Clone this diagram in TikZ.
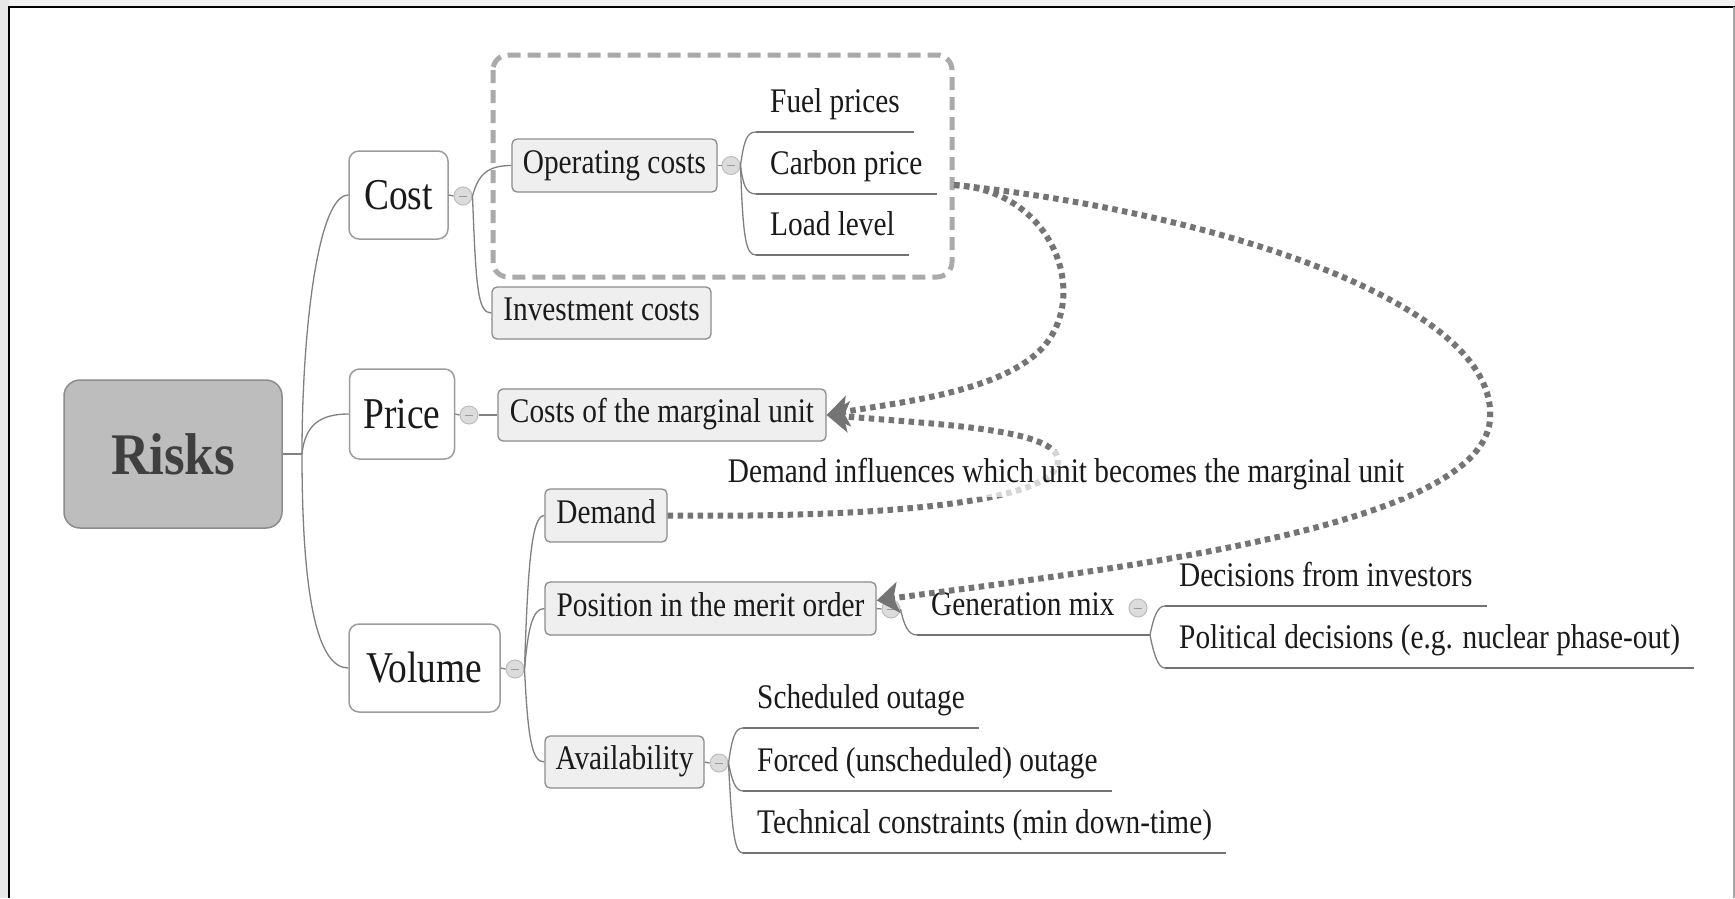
\documentclass[tikz,border=0pt]{standalone}
\usepackage{fontspec}
\setmainfont{Liberation Serif}
\usetikzlibrary{arrows.meta,calc}

\definecolor{conngray}{HTML}{808080}
\definecolor{boxedge}{HTML}{8C8C8C}
\definecolor{boxfill}{HTML}{EFEFEF}
\definecolor{rootfill}{HTML}{BDBDBD}
\definecolor{roottext}{HTML}{3F3F3F}
\definecolor{dotgray}{HTML}{747474}
\definecolor{groupgray}{HTML}{AAAAAA}
\definecolor{btnfill}{HTML}{DCDCDC}
\definecolor{btnedge}{HTML}{BDBDBD}
\definecolor{inktext}{HTML}{1A1A1A}

% slightly condensed text, as set by the mind-map tool
\newcommand\cnd[1]{\scalebox{0.85}[1]{#1}}
\newcommand\cndr[1]{\scalebox{0.9}[1]{#1}}
\newcommand\fsub{\fontsize{34.5}{40}\selectfont}
\newcommand\fmain{\fontsize{44}{50}\selectfont}
\newcommand\froot{\fontsize{59}{70}\selectfont\bfseries}

\begin{document}
\begin{tikzpicture}[x=1pt,y=-1pt,
  rootbox/.style={draw=boxedge, fill=rootfill, line width=1.5pt, rounded corners=16pt,
    inner sep=0pt, text=roottext, font=\froot, text height=40pt, text depth=0pt},
  topic/.style={draw=boxedge!85, fill=white, line width=1.5pt, rounded corners=10pt,
    inner sep=0pt, text=inktext, font=\fmain, text height=29pt, text depth=0pt},
  subbox/.style={draw=boxedge, fill=boxfill, line width=1.3pt, rounded corners=5pt,
    inner sep=0pt, text=inktext, font=\fsub, text height=22.8pt, text depth=7.8pt},
  leaf/.style={anchor=south west, inner xsep=14pt, inner ysep=0pt, text=inktext,
    font=\fsub, text height=24pt, text depth=19pt},
  collapse/.style={circle, minimum size=18pt, inner sep=0pt, fill=btnfill, draw=btnedge,
    line width=1pt, path picture={\draw[conngray!80, line width=1pt]
      ([xshift=-4pt]path picture bounding box.center) -- ([xshift=4pt]path picture bounding box.center);}},
  conn/.style={draw=conngray, line width=1.3pt},
  uline/.style={draw=conngray!90!black, line width=1.6pt},
  infl/.style={draw=dotgray, line width=6pt, dash pattern=on 5.5pt off 4.5pt,
    -{Stealth[length=22pt, width=31pt, inset=5pt, fill=dotgray]}},
  group/.style={draw=groupgray, line width=5pt, dash pattern=on 13pt off 7pt, rounded corners=15pt}
]
\useasboundingbox (0,0) rectangle (1735,898);

% page background and frame
\fill[black!9] (0,0) rectangle (1735,898);
\fill[black!5] (9,0) rectangle (1735,7);
\fill[white] (9,7) rectangle (1734,898);
\draw[black, line width=2.2pt] (9,898) -- (9,7) -- (1735,7);
\draw[black!35, line width=1.2pt] (1734,7) -- (1734,898);

% central topic and main branches
\node[rootbox, minimum width=218pt, minimum height=148pt] (risks) at (173,454) {\cndr{Risks}};
\coordinate (rj) at (302,454);

\node[topic, minimum width=99pt, minimum height=88pt] (cost) at (398.5,195) {\cnd{Cost}};
\node[topic, minimum width=105pt, minimum height=90pt] (price) at (402,414) {\cnd{Price}};
\node[topic, minimum width=151pt, minimum height=88pt] (volume) at (424.5,668) {\cnd{Volume}};

\node[collapse] (costc) at (463,196) {};
\node[collapse] (pricec) at (469,415) {};
\node[collapse] (volc) at (515,669) {};

\draw[conn] (risks.east) -- (rj);
\draw[conn] (rj) .. controls (302,330) and (318,195) .. (cost.west);
\draw[conn] (rj) .. controls (305,425) and (320,414) .. (price.west);
\draw[conn] (rj) .. controls (302,600) and (318,668) .. (volume.west);
\draw[conn] (cost.east) -- (costc.west);
\draw[conn] (price.east) -- (pricec.west);
\draw[conn] (volume.east) -- (volc.west);

% cost branch
\node[subbox, minimum width=205pt, minimum height=53pt] (op) at (614.5,165.5) {\cnd{Operating costs}};
\node[subbox, minimum width=219pt, minimum height=52pt] (inv) at (601.5,313) {\cnd{Investment costs}};
\node[collapse] (opc) at (731,165.5) {};
\draw[conn] (costc.east) .. controls (478,176) and (486,165.5) .. (op.west);
\draw[conn] (costc.east) .. controls (476,290) and (478,313) .. (inv.west);
\draw[conn] (op.east) -- (opc.west);

\node[leaf] (fuel) at (756,132) {\cnd{Fuel prices}};
\node[leaf] (carbon) at (756,194) {\cnd{Carbon price}};
\node[leaf] (load) at (756,255) {\cnd{Load level}};
\foreach \n in {fuel,carbon,load} \draw[uline] (\n.south west) -- (\n.south east);
\draw[conn] (opc.east) .. controls (744,140) and (747,132) .. (fuel.south west);
\draw[conn] (opc.east) .. controls (743,185) and (746,194) .. (carbon.south west);
\draw[conn] (opc.east) .. controls (743,240) and (746,255) .. (load.south west);

\draw[group] (493,55) rectangle (952,277);

% price branch
\node[subbox, minimum width=328pt, minimum height=52pt] (cmu) at (662,415) {\cnd{Costs of the marginal unit}};
\draw[conn] (pricec.east) -- (cmu.west);

% volume branch
\node[subbox, minimum width=122pt, minimum height=53pt] (demand) at (606,515.5) {\cnd{Demand}};
\node[subbox, minimum width=331pt, minimum height=53pt] (pos) at (710.5,608.5) {\cnd{Position in the merit order}};
\node[subbox, minimum width=159pt, minimum height=52pt] (avail) at (624.5,762) {\cnd{Availability}};
\draw[conn] (volc.east) .. controls (528,560) and (532,515.5) .. (demand.west);
\draw[conn] (volc.east) .. controls (528,630) and (532,608.5) .. (pos.west);
\draw[conn] (volc.east) .. controls (528,740) and (532,762) .. (avail.west);

\node[collapse] (posc) at (891,609) {};
\draw[conn] (pos.east) -- (posc.west);
\node[leaf] (gm) at (917,635) {\cnd{Generation mix}};
\coordinate (gmend) at (1150,635);
\node[collapse] (gmc) at (1138,608) {};
\draw[uline] (gm.south west) -- (gmend);
\draw[conn] (posc.east) .. controls (904,625) and (908,635) .. (gm.south west);

\node[leaf] (dec) at (1165,606) {\cnd{Decisions from investors}};
\node[leaf] (pol) at (1165,668) {\cnd{Political decisions (e.g. nuclear phase-out)}};
\foreach \n in {dec,pol} \draw[uline] (\n.south west) -- (\n.south east);
\draw[conn] (gmend) .. controls (1154,615) and (1158,606) .. (dec.south west);
\draw[conn] (gmend) .. controls (1154,655) and (1158,668) .. (pol.south west);

\node[collapse] (avc) at (719,763) {};
\draw[conn] (avail.east) -- (avc.west);
\node[leaf] (sched) at (743,728) {\cnd{Scheduled outage}};
\node[leaf] (forced) at (743,791) {\cnd{Forced (unscheduled) outage}};
\node[leaf] (tech) at (743,853) {\cnd{Technical constraints (min down-time)}};
\foreach \n in {sched,forced,tech} \draw[uline] (\n.south west) -- (\n.south east);
\draw[conn] (avc.east) .. controls (732,738) and (735,728) .. (sched.south west);
\draw[conn] (avc.east) .. controls (732,780) and (735,791) .. (forced.south west);
\draw[conn] (avc.east) .. controls (732,835) and (735,853) .. (tech.south west);

% influence relations
\coordinate (cpout) at (954,185);
\draw[infl] (cpout) .. controls (1050,190) and (1090,290) .. (1045,345)
  .. controls (1005,392) and (900,402) .. (cmu.east);
\draw[infl] (cpout) .. controls (1200,210) and (1500,300) .. (1490,420)
  .. controls (1480,530) and (1100,570) .. ([yshift=8pt]pos.east);
\draw[infl] (demand.east) .. controls (900,518) and (1060,500) .. (1058,460)
  .. controls (1056,430) and (950,425) .. (cmu.east);

\node[anchor=base, font=\fsub, text=inktext, fill=white, fill opacity=0.7, text opacity=1,
  inner xsep=3pt, inner ysep=8pt] (lbl) at (1066,482)
  {\cnd{Demand influences which unit becomes the marginal unit}};
\end{tikzpicture}
\end{document}
